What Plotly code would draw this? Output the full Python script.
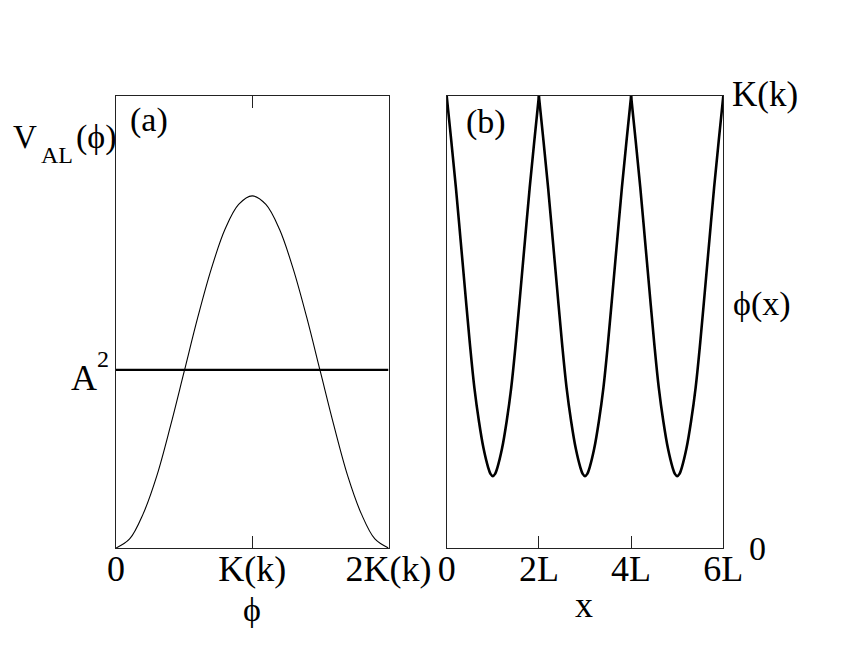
import plotly.graph_objects as go

# ---- data ----
# panel (a): potential V_AL(phi), phi in units of K(k), V as fraction of the axis height
phi_a = [0.0, 0.1, 0.2, 0.3, 0.4, 0.5, 0.6, 0.7, 0.8, 0.9, 1.0,
         1.1, 1.2, 1.3, 1.4, 1.5, 1.6, 1.7, 1.8, 1.9, 2.0]
V_a = [0.000, 0.020, 0.076, 0.160, 0.270, 0.390, 0.510, 0.618, 0.705, 0.760, 0.779,
       0.760, 0.705, 0.618, 0.510, 0.390, 0.270, 0.160, 0.076, 0.020, 0.000]
A2_level = 0.394

# panel (b): phi(x), x in units of L, phi in units of K(k)
x_b = [0.0, 0.1, 0.2, 0.3, 0.4, 0.5, 0.6, 0.7, 0.8, 0.9, 0.95,
       1.0, 1.05, 1.1, 1.2, 1.3, 1.4, 1.5, 1.6, 1.7, 1.8, 1.9,
       2.0, 2.1, 2.2, 2.3, 2.4, 2.5, 2.6, 2.7, 2.8, 2.9, 2.95,
       3.0, 3.05, 3.1, 3.2, 3.3, 3.4, 3.5, 3.6, 3.7, 3.8, 3.9,
       4.0, 4.1, 4.2, 4.3, 4.4, 4.5, 4.6, 4.7, 4.8, 4.9, 4.95,
       5.0, 5.05, 5.1, 5.2, 5.3, 5.4, 5.5, 5.6, 5.7, 5.8, 5.9, 6.0]
phi_b = [1.000, 0.900, 0.797, 0.683, 0.568, 0.455, 0.355, 0.280, 0.220, 0.178, 0.164,
         0.159, 0.164, 0.178, 0.220, 0.280, 0.355, 0.455, 0.568, 0.683, 0.797, 0.900,
         1.000, 0.900, 0.797, 0.683, 0.568, 0.455, 0.355, 0.280, 0.220, 0.178, 0.164,
         0.159, 0.164, 0.178, 0.220, 0.280, 0.355, 0.455, 0.568, 0.683, 0.797, 0.900,
         1.000, 0.900, 0.797, 0.683, 0.568, 0.455, 0.355, 0.280, 0.220, 0.178, 0.164,
         0.159, 0.164, 0.178, 0.220, 0.280, 0.355, 0.455, 0.568, 0.683, 0.797, 0.900, 1.000]
cusp_x = [0.0, 2.0, 4.0, 6.0]

ticks_a = [0, 1, 2]
ticklabels_a = ["0", "K(k)", "2K(k)"]
ticks_b = [0, 2, 4, 6]
ticklabels_b = ["0", "2L", "4L", "6L"]

W, H = 860, 664
OX, OY = -8, -8   # compensate the page's default body margin
FONT = "Liberation Serif, Times New Roman, serif"

def px(x):
    return (x + OX) / W

def py(y):
    return 1 - (y + OY) / H

fig = go.Figure()

fig.add_trace(go.Scatter(x=phi_a, y=V_a, mode="lines",
                         line=dict(color="black", width=1.1, shape="spline", smoothing=1),
                         xaxis="x", yaxis="y", showlegend=False, hoverinfo="skip"))
fig.add_trace(go.Scatter(x=[phi_a[0], phi_a[-1]], y=[A2_level, A2_level], mode="lines",
                         line=dict(color="black", width=2.2),
                         xaxis="x", yaxis="y", showlegend=False, hoverinfo="skip"))

# panel (b): one trace per cusp-to-cusp segment so the cusps stay sharp
for i in range(len(cusp_x) - 1):
    idx = [j for j, xv in enumerate(x_b) if cusp_x[i] - 1e-9 <= xv <= cusp_x[i + 1] + 1e-9]
    fig.add_trace(go.Scatter(x=[x_b[j] for j in idx], y=[phi_b[j] for j in idx], mode="lines",
                             line=dict(color="black", width=2.6, shape="spline", smoothing=1),
                             xaxis="x2", yaxis="y2", showlegend=False, hoverinfo="skip"))

axis_line = dict(showline=True, linecolor="#222222", linewidth=1.2,
                 showgrid=False, zeroline=False, automargin=False)
tickfont = dict(family=FONT, size=36, color="black")

fig.update_layout(
    template="none",
    width=W, height=H,
    margin=dict(l=0, r=0, t=0, b=0, pad=0),
    paper_bgcolor="white", plot_bgcolor="white",
    xaxis=dict(domain=[px(116), px(388.5)], range=[0, 2], tickvals=ticks_a, ticktext=ticklabels_a,
               ticks="inside", ticklen=12, tickcolor="#222222", tickwidth=1.2, mirror="ticks",
               tickfont=tickfont, ticklabelstandoff=-11, anchor="y", **axis_line),
    yaxis=dict(domain=[py(548), py(96)], range=[0, 1], showticklabels=False, ticks="",
               mirror=True, anchor="x", **axis_line),
    xaxis2=dict(domain=[px(446.7), px(723.3)], range=[0, 6], tickvals=ticks_b, ticktext=ticklabels_b,
                ticks="inside", ticklen=12, tickcolor="#222222", tickwidth=1.2, mirror=True,
                tickfont=tickfont, ticklabelstandoff=-11, anchor="y2", **axis_line),
    yaxis2=dict(domain=[py(548), py(96)], range=[0, 1], showticklabels=False, ticks="",
                mirror=True, anchor="x2", **axis_line),
)

def ann(text, x, y, size, xanchor="center", yanchor="middle"):
    fig.add_annotation(text=text, x=px(x), y=py(y), xref="paper", yref="paper",
                       showarrow=False, xanchor=xanchor, yanchor=yanchor,
                       font=dict(family=FONT, size=size, color="black"))

# y label of panel (a): V_AL(phi)
ann("V", 25, 137, 33)
ann("AL", 57, 155, 24)
ann("(ϕ)", 96, 137, 34)
ann("(a)", 149, 120, 34)
ann("(b)", 486, 122, 34)
# A^2 level label
ann("A", 83.5, 378, 36)
ann("2", 103, 359, 24)
# right-hand labels of panel (b)
ann("K(k)", 765, 94, 35)
ann("ϕ(x)", 762, 304, 34)
ann("0", 757, 548, 34)
# axis titles
ann("ϕ", 252, 609, 34)
ann("x", 584, 605, 36)

fig.write_html("out.html")
